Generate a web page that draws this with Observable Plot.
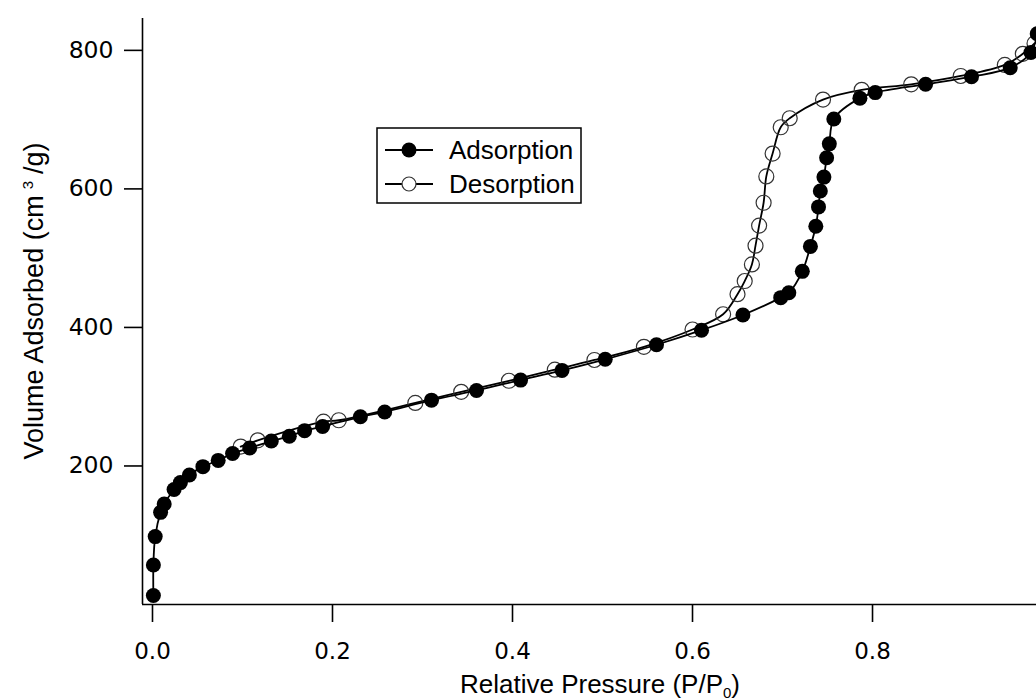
<!DOCTYPE html>
<html><head><meta charset="utf-8">
<script src="https://cdn.jsdelivr.net/npm/d3@7"></script>
<script src="https://cdn.jsdelivr.net/npm/@observablehq/plot@0.6"></script>
<style>html,body{margin:0;padding:0;background:#fff}</style>
</head><body><div id="chart"></div>
<script>
// Relative pressure (P/P0) and volume adsorbed (cm3/g)
const adsP = [0.001,0.001,0.003,0.009,0.013,0.024,0.031,0.041,0.056,0.073,0.089,0.108,0.132,0.152,0.169,0.189,0.231,0.258,0.310,0.360,0.409,0.455,0.503,0.560,0.610,0.656,0.698,0.707,0.722,0.731,0.737,0.740,0.742,0.746,0.749,0.752,0.757,0.786,0.803,0.859,0.910,0.953,0.976,0.983];
const adsV = [13,57,98,133,145,166,176,187,199,208,218,226,236,243,251,257,271,278,295,309,324,338,354,375,396,418,443,450,481,517,546,574,597,617,645,665,701,731,739,751,762,775,797,824];
const desP = [0.980,0.967,0.947,0.898,0.843,0.788,0.745,0.708,0.698,0.689,0.682,0.679,0.674,0.670,0.666,0.658,0.650,0.634,0.600,0.546,0.491,0.447,0.396,0.343,0.292,0.207,0.190,0.117,0.098];
const desV = [810,795,779,763,751,743,729,702,689,651,618,580,547,518,491,467,448,419,397,372,353,339,323,307,291,266,264,237,228];
const xTicks = [0, 0.2, 0.4, 0.6, 0.8];
const yTicks = [200, 400, 600, 800];
const seriesNames = ["Adsorption", "Desorption"];
const xDomain = [-0.0111, 0.9822];
const yDomain = [0, 846];

const ads = adsP.map((p, i) => ({p, v: adsV[i]}));
const des = desP.map((p, i) => ({p, v: desV[i]}));

const chart = Plot.plot({
  width: 1036, height: 700,
  marginTop: 18, marginBottom: 96, marginLeft: 142, marginRight: 0,
  style: {fontFamily: "'DejaVu Sans', sans-serif", fontSize: "23px", color: "black", background: "white"},
  x: {domain: xDomain},
  y: {domain: yDomain},
  marks: [
    Plot.axisX({ticks: xTicks, tickSize: 18, tickPadding: 20, tickFormat: d3.format(".1f"), label: null, strokeWidth: 1.6, fontSize: 23}),
    Plot.axisY({ticks: yTicks, tickSize: 18, tickPadding: 11, tickFormat: d => String(d), label: null, strokeWidth: 1.6, fontSize: 23.5}),
    Plot.ruleY([yDomain[0]], {stroke: "black", strokeWidth: 1.6}),
    Plot.ruleX([xDomain[0]], {stroke: "black", strokeWidth: 1.6}),
    Plot.line(des, {x: "p", y: "v", curve: "catmull-rom", stroke: "black", strokeWidth: 1.8}),
    Plot.dot(des, {x: "p", y: "v", r: 7.5, stroke: "#333", strokeWidth: 1.2, fill: "none"}),
    Plot.line(ads, {x: "p", y: "v", curve: "catmull-rom", stroke: "black", strokeWidth: 1.8}),
    Plot.dot(ads, {x: "p", y: "v", r: 7.5, fill: "black", stroke: "none"})
  ]
});
document.getElementById("chart").appendChild(chart);

const svg = d3.select(chart);
const titleFont = "'Liberation Sans', Arial, sans-serif";

// x-axis title with subscript
const xt = svg.append("text")
  .attr("x", 600).attr("y", 693)
  .attr("text-anchor", "middle")
  .attr("font-family", titleFont).attr("font-size", 26).attr("fill", "black");
xt.append("tspan").text("Relative Pressure (P/P");
xt.append("tspan").attr("font-size", 15).attr("dy", 5).text("0");
xt.append("tspan").attr("dy", -5).text(")");

// y-axis title with superscript
const yt = svg.append("text")
  .attr("transform", "translate(43,301) rotate(-90)")
  .attr("text-anchor", "middle")
  .attr("font-family", titleFont).attr("font-size", 27).attr("fill", "black");
yt.append("tspan").text("Volume Adsorbed (cm");
yt.append("tspan").attr("font-size", 15).attr("dx", 6).attr("dy", -10).text("3");
yt.append("tspan").attr("dx", 7).attr("dy", 10).text("/g)");

// legend
const lg = svg.append("g").attr("aria-label", "legend");
lg.append("rect").attr("x", 377).attr("y", 128).attr("width", 204).attr("height", 75)
  .attr("fill", "white").attr("stroke", "black").attr("stroke-width", 1.5);
seriesNames.forEach((name, i) => {
  const cy = 150 + i * 34;
  lg.append("line").attr("x1", 385).attr("x2", 433).attr("y1", cy).attr("y2", cy)
    .attr("stroke", "black").attr("stroke-width", 1.8);
  lg.append("circle").attr("cx", 409).attr("cy", cy).attr("r", i === 0 ? 7.5 : 7)
    .attr("fill", i === 0 ? "black" : "white").attr("stroke", i === 0 ? "none" : "#333").attr("stroke-width", 1.2);
  lg.append("text").attr("x", 449).attr("y", cy + 9.3).attr("text-anchor", "start")
    .attr("font-family", titleFont).attr("font-size", 26).attr("fill", "black").text(name);
});
</script>
</body></html>
